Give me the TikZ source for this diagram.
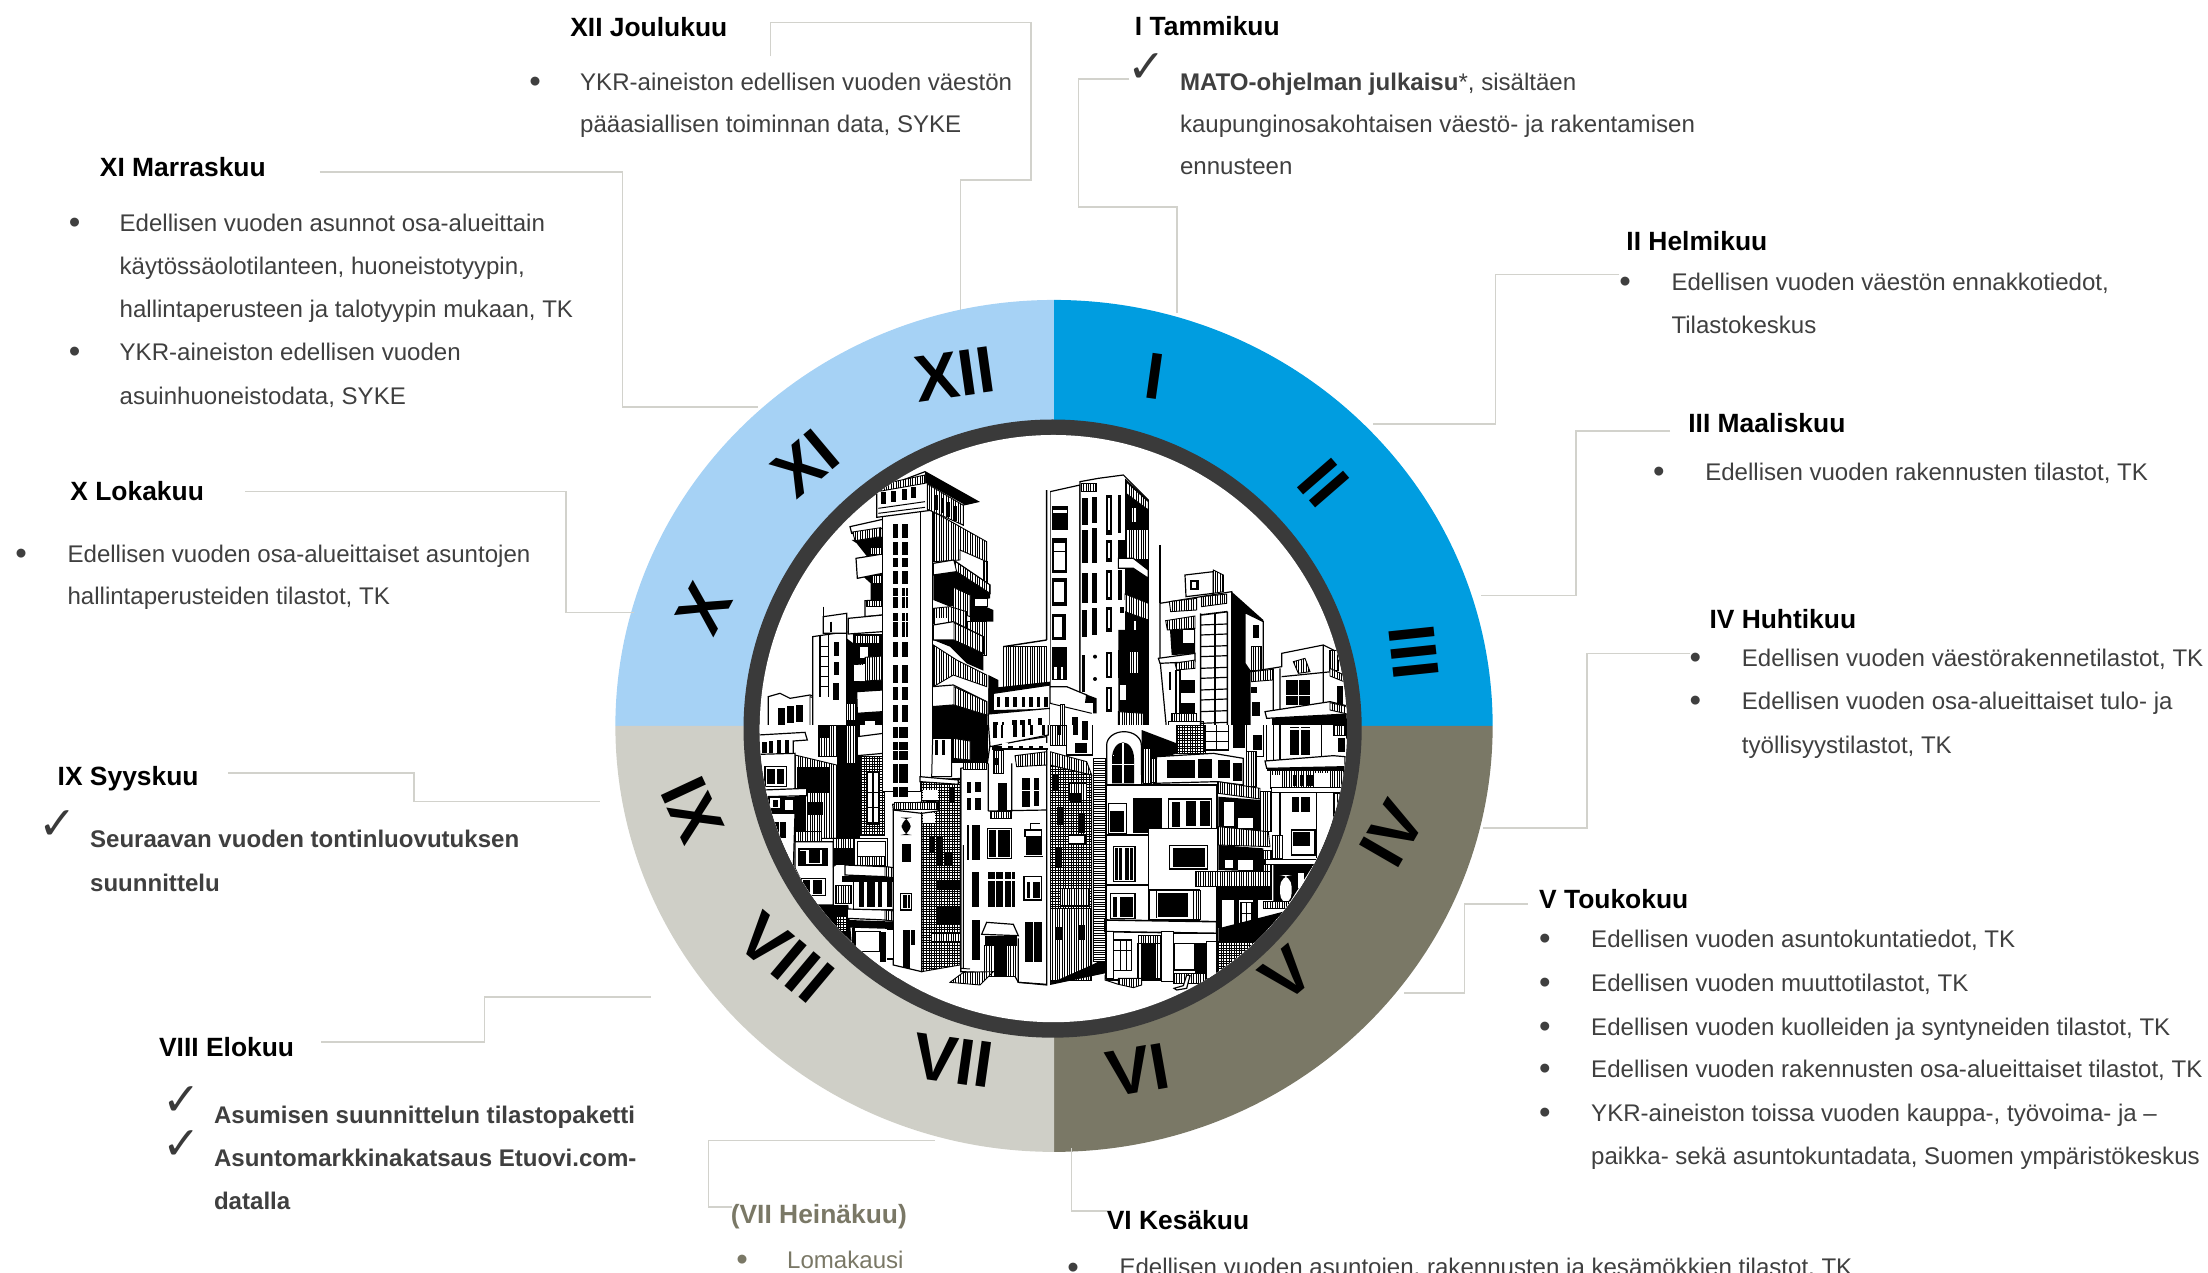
\documentclass[tikz,border=0pt]{standalone}
\usepackage{fontspec}
\setmainfont{Liberation Sans}
\newfontfamily\chkfont{DejaVu Sans}
\definecolor{cblue}{HTML}{009DE0}
\definecolor{clblue}{HTML}{A6D2F5}
\definecolor{colive}{HTML}{7A7866}
\definecolor{cgray}{HTML}{CFCFC7}
\definecolor{ctext}{HTML}{3F3F3F}
\definecolor{cline}{HTML}{D2D2CC}
\definecolor{cring}{HTML}{3A3A3A}
\newcommand\kb[4]{\fill (#1,#2) rectangle ++(#3,#4);}
\newcommand\wb[4]{\fill[white] (#1,#2) rectangle ++(#3,#4);}
\newcommand\fr[4]{\draw[bld] (#1,#2) rectangle ++(#3,#4);}
\newcommand\hvb[4]{\draw[hpv] (#1,#2) rectangle ++(#3,#4);}
\newcommand\hhb[4]{\draw[hph] (#1,#2) rectangle ++(#3,#4);}
\newcommand\hcb[4]{\draw[hpc] (#1,#2) rectangle ++(#3,#4);}
\newcommand\wpoly[1]{\filldraw[bld] #1 -- cycle;}
\newcommand\kpoly[1]{\fill #1 -- cycle;}
\newcommand\hvp[1]{\draw[hpv] #1 -- cycle;}
\newcommand\hcp[1]{\draw[hpc] #1 -- cycle;}
\tikzset{
 every node/.style={inner sep=0pt,outer sep=0pt},
 conn/.style={draw=cline,line width=1.5bp},
 ttl/.style={anchor=mid west,yshift=-6bp,font=\fontsize{26.5}{30}\selectfont\bfseries,text=black},
 ttlo/.style={ttl,text=colive},
 body/.style={anchor=mid west,yshift=-6bp,font=\fontsize{24.15}{28}\selectfont,text=ctext},
 bodyb/.style={body,font=\fontsize{24.15}{28}\selectfont\bfseries},
 bodyo/.style={body,text=colive},
 bul/.style={anchor=center,yshift=-3bp,font=\fontsize{33}{33}\selectfont,text=ctext},
 bulo/.style={bul,text=colive},
 chk/.style={anchor=center,font=\fontsize{46}{46}\chkfont\selectfont,text=cring},
 num/.style={anchor=center,font=\fontsize{66}{66}\selectfont\bfseries,text=black},
 bld/.style={fill=white,draw=black,line width=1.2pt},
 hv/.style={line width=.5pt,xstep=2.4pt,ystep=3000pt},
 hh/.style={line width=.5pt,xstep=3000pt,ystep=2.4pt},
 hc/.style={line width=.45pt,xstep=2.6pt,ystep=2.6pt},
 hpv/.style={fill=white,draw=black,line width=.9pt,path picture={\draw[hv] (path picture bounding box.south west) grid (path picture bounding box.north east);}},
 hph/.style={fill=white,draw=black,line width=.9pt,path picture={\draw[hh] (path picture bounding box.south west) grid (path picture bounding box.north east);}},
 hpc/.style={fill=white,draw=black,line width=.9pt,path picture={\draw[hc] (path picture bounding box.south west) grid (path picture bounding box.north east);}},
 tileA/.style={shift={(750bp,-430bp)},x=.33333bp,y=-.33333bp},
 tileB/.style={shift={(1050bp,-430bp)},x=.33333bp,y=-.33333bp},
 tileC/.style={shift={(750bp,-725bp)},x=.33333bp,y=-.33333bp},
 tileD/.style={shift={(1050bp,-725bp)},x=.33333bp,y=-.33333bp},
}
\begin{document}
\begin{tikzpicture}[x=1.40816bp,y=-1.40816bp]
\useasboundingbox (0,0) rectangle (1568,904);
% ring quadrants
\fill[clblue] (748.5,515.5) -- (437,515.5) arc[start angle=180,end angle=90,x radius=311.5,y radius=-302.5] -- cycle;
\fill[cblue] (748.5,515.5) -- (748.5,213) arc[start angle=90,end angle=0,x radius=311.5,y radius=-302.5] -- cycle;
\fill[colive] (748.5,515.5) -- (1060,515.5) arc[start angle=0,end angle=-90,x radius=311.5,y radius=-302.5] -- cycle;
\fill[cgray] (748.5,515.5) -- (748.5,818) arc[start angle=-90,end angle=-180,x radius=311.5,y radius=-302.5] -- cycle;
% centre disc
\fill[cring] (747.5,517.4) circle (219.5);
\fill[white] (748,517.4) circle (208.5);
\begin{scope}
\clip (748,517.4) circle (208.5);
% ---------- upper left tile
\begin{scope}[tileA]
\clip (0,0) rectangle (900,902);
% low building
\wpoly{(55,800)--(90,790)--(120,805)--(180,795)--(260,825)--(260,900)--(55,900)}
\hvp{(180,800)--(260,825)--(260,900)--(180,900)}
\kb{85}{835}{20}{50}\kb{110}{828}{22}{50}\kb{138}{825}{20}{50}
\kb{215}{835}{25}{40}
% narrow building
\wpoly{(188,620)--(290,605)--(290,900)--(188,900)}
\wpoly{(220,560)--(290,550)--(290,610)--(220,610)}
\draw[line width=1.2pt] (220,530)--(220,610) (243,575)--(243,606) (210,615)--(210,800) (235,615)--(235,800);
\foreach \k in {650,680,...,770}{\draw[line width=.8pt] (210,\k)--(235,\k);}
\kb{252}{635}{16}{42}\kb{252}{695}{16}{40}\kb{250}{760}{18}{50}
\kpoly{(290,625)--(310,640)--(310,900)--(290,900)}
% tower right side
\hvp{(550,245)--(630,290)--(710,335)--(710,395)--(630,360)--(630,390)--(550,395)}
\hvb{700}{395}{12}{70}
\kpoly{(550,435)--(620,425)--(720,490)--(720,505)--(600,530)--(550,510)}
\wpoly{(550,400)--(610,390)--(720,465)--(720,490)--(620,425)--(550,435)}
\hvp{(612,392)--(720,465)--(720,490)--(620,425)}
\hvp{(610,472)--(660,495)--(660,560)--(610,540)}
\kpoly{(660,510)--(730,540)--(730,575)--(660,575)}
\fr{672}{505}{40}{25}
\hvp{(550,535)--(600,530)--(650,545)--(650,600)--(550,580)}
\wb{555}{565}{35}{18}
\hvb{650}{575}{60}{100}
\kpoly{(550,630)--(610,630)--(700,670)--(700,722)--(650,700)--(600,650)}
\wpoly{(550,585)--(610,575)--(700,620)--(700,670)--(610,630)--(550,630)}
\hvp{(612,578)--(700,620)--(700,670)--(612,630)}
\hvp{(550,645)--(620,690)--(710,735)--(710,770)--(610,735)--(550,770)}
\kpoly{(715,735)--(745,750)--(745,790)--(715,900)}
\kpoly{(545,830)--(610,825)--(712,855)--(712,902)--(545,902)}
\wpoly{(547,770)--(610,765)--(710,815)--(710,855)--(610,825)--(547,830)}
\hvp{(612,770)--(710,815)--(710,855)--(612,825)}
% left balconies
\kpoly{(305,330)--(398,320)--(398,375)--(350,378)--(320,340)}
\wpoly{(300,290)--(398,268)--(398,295)--(305,310)}
\hvp{(308,306)--(392,293)--(392,320)--(315,332)}
\kpoly{(340,440)--(398,430)--(398,510)--(362,510)--(362,460)}
\wpoly{(318,385)--(398,372)--(398,430)--(322,445)}
\hvb{362}{352}{32}{22}\hvb{365}{435}{30}{25}
\wpoly{(345,512)--(398,510)--(398,555)--(345,560)}
\hvb{350}{512}{45}{18}
\wpoly{(295,565)--(398,555)--(398,605)--(295,612)}
\kb{310}{612}{88}{170}
\hvb{315}{615}{75}{25}
\fr{327}{650}{28}{35}
\hvp{(345,682)--(398,678)--(398,750)--(310,755)--(310,705)--(345,700)}
\wb{312}{706}{32}{48}
\kb{295}{770}{103}{132}
\wpoly{(320,785)--(398,780)--(398,845)--(322,850)}
\hvb{290}{820}{25}{50}
\wb{345}{872}{30}{30}
% tower front
\fr{398}{240}{150}{662}
\draw[line width=1.6pt] (512,245)--(512,902);
\foreach \yy/\hh in {283/40,335/40,385/26,422/40,475/60,548/72,635/45,705/55,772/38,825/50,888/20}{\kb{430}{\yy}{15}{\hh}\kb{455}{\yy}{20}{\hh}}
\draw[white,line width=.6pt] (465,475)--(465,620) (430,500)--(475,500) (430,575)--(475,575);
% penthouse
\wpoly{(380,180)--(525,125)--(685,215)--(640,225)--(640,285)--(550,240)--(380,262)}
\kpoly{(525,125)--(685,215)--(645,225)--(530,160)--(525,160)}
\hvp{(385,165)--(525,135)--(525,160)--(382,185)}
\hvp{(532,162)--(640,226)--(640,285)--(532,238)}
\kb{555}{195}{8}{45}\kb{590}{215}{10}{45}\kb{610}{228}{12}{45}\kb{572}{205}{8}{45}
\kb{393}{187}{14}{35}\kb{424}{182}{14}{35}\kb{457}{178}{14}{33}\kb{484}{172}{14}{32}
\draw[line width=1pt] (385,235)--(525,215) (385,250)--(525,232);
% right tower edge
\hvb{760}{648}{130}{125}
\draw[line width=1.4pt] (760,650)--(890,630) (890,180)--(890,630);
\kpoly{(715,775)--(900,755)--(900,850)--(715,860)}
\wpoly{(730,790)--(900,765)--(900,838)--(730,842)}
\foreach \xx in {740,765,790,815,838,860,882}{\kb{\xx}{802}{11}{30}}
\wpoly{(715,852)--(900,835)--(900,902)--(715,902)}
\kb{730}{875}{15}{27}\kb{755}{875}{8}{27}\kb{785}{870}{15}{32}\kb{810}{870}{14}{32}\kb{835}{868}{8}{34}\kb{865}{865}{12}{37}
\end{scope}
% ---------- upper right tile
\begin{scope}[tileB]
\clip (0,0) rectangle (930,902);
\draw[line width=1.2pt] (330,345)--(330,520);
% centre tower
\wpoly{(0,185)--(90,165)--(90,902)--(0,902)}
\wpoly{(90,155)--(145,145)--(220,135)--(295,210)--(295,902)--(90,902)}
\hvb{95}{160}{45}{25}
\kb{5}{228}{48}{72}\wb{8}{240}{42}{8}
\kb{5}{325}{45}{105}\wb{12}{340}{32}{80}\draw[line width=1pt] (12,365)--(44,365);
\kb{5}{445}{45}{82}\wb{12}{455}{30}{62}
\kb{6}{553}{42}{78}\wb{12}{562}{25}{60}
\kb{5}{650}{45}{100}\wb{12}{710}{8}{38}\wb{32}{710}{8}{38}
\kb{95}{205}{18}{80}\kb{125}{200}{17}{78}\kb{95}{300}{18}{100}\kb{125}{295}{17}{105}
\kb{95}{430}{18}{90}\kb{125}{428}{17}{90}\kb{95}{540}{15}{80}\kb{125}{535}{17}{80}
\kb{168}{195}{18}{120}\wb{174}{205}{6}{95}\kb{168}{330}{18}{65}\wb{174}{340}{6}{45}
\kb{168}{420}{18}{90}\wb{174}{430}{6}{70}\kb{168}{530}{18}{75}\wb{174}{540}{6}{55}
\kb{205}{195}{8}{115}\kb{205}{330}{22}{55}\kb{205}{420}{12}{90}
\kb{205}{660}{10}{85}\kb{168}{665}{18}{80}\wb{174}{672}{6}{65}\kb{168}{770}{18}{75}\wb{174}{778}{6}{60}
\kb{95}{675}{10}{110}
\fill (135,680) circle (6); \fill (135,747) circle (6);
\kpoly{(225,145)--(295,210)--(295,902)--(205,902)--(205,600)--(225,600)}
\hvp{(228,155)--(295,215)--(295,240)--(228,190)}
\hvb{240}{232}{20}{45}
\hvb{230}{297}{65}{90}
\wpoly{(205,385)--(250,385)--(295,420)--(295,445)--(250,415)--(205,415)}
\hvp{(225,492)--(295,520)--(295,570)--(225,545)}
\hvb{235}{665}{30}{65}
\wb{205}{510}{20}{68}\kb{210}{530}{12}{18}
\hvb{247}{572}{15}{28}
\hvp{(205,845)--(280,850)--(280,902)--(205,902)}
\wb{210}{765}{18}{45}
% left-bottom slab
\kpoly{(100,790)--(140,805)--(140,850)--(100,850)}
\wpoly{(0,770)--(50,770)--(110,795)--(105,830)--(0,820)}
\wb{0}{820}{130}{82}
\draw[line width=1pt] (0,820)--(125,850);
\hvb{30}{822}{14}{80}
\kb{65}{862}{20}{40}\kb{95}{872}{20}{30}
% right-mid tower
\wpoly{(405,435)--(490,425)--(490,490)--(408,500)}
\kb{420}{450}{26}{30}\wb{426}{456}{13}{18}
\hvp{(490,420)--(520,435)--(520,485)--(490,490)}
\wpoly{(330,520)--(545,485)--(545,902)--(350,902)--(330,690)}
\hvp{(358,515)--(440,505)--(440,540)--(362,545)}
\hvp{(455,500)--(530,492)--(530,520)--(455,530)}
\kpoly{(360,600)--(435,595)--(435,672)--(365,675)}
\hvp{(347,572)--(435,558)--(435,595)--(352,600)}
\wb{398}{600}{35}{40}
\wpoly{(325,685)--(435,670)--(435,695)--(330,700)}
\hvp{(375,700)--(435,690)--(435,715)--(380,720)}
\hvb{375}{720}{15}{130}
\wb{392}{720}{43}{30}\kb{392}{750}{43}{40}\wb{392}{790}{43}{30}\kb{392}{820}{43}{30}
\hvb{365}{850}{75}{25}
\fr{355}{875}{105}{30}
\draw[line width=1.2pt] (360,725)--(360,780);
\draw[line width=1.6pt] (452,550)--(452,902) (495,550)--(495,902) (532,545)--(532,902) (452,555)--(532,545);
\foreach \k in {585,615,650,680,715,745,780,810,845,880}{\draw[line width=1.2pt] (452,\k)--(532,\k-3);}
\kpoly{(545,485)--(640,570)--(640,902)--(545,902)}
\wpoly{(585,548)--(640,575)--(640,722)--(600,722)--(585,700)}
\kb{608}{585}{18}{40}
\hvb{605}{650}{30}{70}
% far right building
\wpoly{(600,725)--(665,715)--(695,710)--(695,670)--(820,645)--(860,665)--(892,700)--(892,902)--(600,902)}
\hvp{(605,725)--(668,718)--(668,750)--(605,755)}
\kb{602}{770}{20}{20}\kb{605}{815}{25}{42}
\draw[line width=1.2pt] (670,715)--(670,840) (690,715)--(690,840) (695,740)--(845,725) (820,645)--(820,820);
\kb{708}{750}{72}{75}
\draw[white,line width=1.4pt] (745,750)--(745,825) (708,797)--(780,797);
\hvp{(730,695)--(765,685)--(780,725)--(745,730)}
\kb{860}{768}{20}{62}
\hvb{838}{662}{28}{58}
\hvp{(840,715)--(882,735)--(882,755)--(840,738)}
\kb{665}{850}{230}{52}
\wpoly{(645,845)--(840,815)--(892,828)--(892,852)--(650,865)}
\hvp{(840,818)--(892,830)--(892,852)--(840,840)}
\hvb{725}{885}{55}{20}
\end{scope}
% ---------- lower left tile
\begin{scope}[tileC]
\clip (0,0) rectangle (900,900);
% left blocks
\wb{0}{0}{900}{760}
\hvb{205}{-5}{60}{100}\kb{210}{0}{30}{40}
\kb{260}{-5}{70}{345}
\hvb{290}{-5}{30}{120}
\hvp{(135,90)--(260,120)--(260,340)--(135,340)}
\kb{142}{125}{95}{80}\kb{175}{230}{45}{40}
\kb{135}{210}{30}{110}
\hvb{135}{320}{80}{30}
\wpoly{(25,30)--(165,22)--(172,45)--(130,48)--(130,90)--(25,90)}
\kb{35}{50}{15}{35}\kb{58}{48}{12}{36}\kb{80}{46}{12}{38}\kb{105}{46}{12}{38}
\wpoly{(25,88)--(135,85)--(135,200)--(40,210)}
\fr{45}{125}{65}{60}\kb{50}{133}{25}{45}\kb{82}{133}{20}{45}
\wpoly{(40,195)--(170,190)--(170,212)--(45,215)}
\kb{50}{215}{90}{50}
\wb{60}{220}{30}{30}\kb{68}{225}{16}{22}\wb{105}{225}{25}{30}
\wpoly{(60,265)--(135,265)--(130,430)--(100,380)}
\kb{70}{290}{38}{50}\wb{88}{290}{3}{50}
\wpoly{(135,350)--(250,350)--(250,540)--(190,540)--(135,430)}
\fr{147}{372}{85}{48}\kb{150}{378}{17}{38}\kb{177}{375}{33}{40}\kb{215}{372}{15}{44}
\fr{155}{460}{72}{52}\kb{160}{465}{20}{40}\kb{190}{465}{25}{42}
\hvp{(250,340)--(322,340)--(322,370)--(250,425)}
\kb{252}{370}{58}{50}
\kpoly{(190,540)--(295,540)--(305,650)}
\hvb{255}{480}{50}{55}\hcb{258}{570}{30}{50}
% mid tower lower
\hcb{330}{95}{72}{235}
\kb{350}{140}{40}{160}\wb{355}{145}{12}{55}\wb{372}{145}{12}{55}\wb{355}{205}{12}{40}\wb{372}{205}{12}{40}\wb{355}{250}{12}{40}\wb{372}{250}{12}{40}
\wpoly{(322,35)--(400,25)--(400,85)--(322,92)}
% balconies
\fr{312}{340}{100}{85}
\wb{322}{348}{85}{45}\draw[line width=1pt] (322,348) rectangle (407,393);
\hvb{322}{395}{85}{25}
\kb{275}{452}{155}{20}
\wpoly{(285,420)--(405,425)--(445,430)--(445,460)--(405,455)--(285,450)}
\hvp{(405,425)--(445,430)--(445,460)--(405,455)}
\fr{310}{470}{120}{85}
\kb{328}{472}{15}{75}\kb{352}{472}{22}{75}\kb{385}{472}{12}{75}\kb{410}{472}{15}{75}
\kpoly{(298,585)--(440,590)--(430,612)--(300,608)}
\wpoly{(292,552)--(405,555)--(445,560)--(445,590)--(405,585)--(292,580)}
\hvp{(405,555)--(445,560)--(445,590)--(405,585)}
\fr{315}{620}{75}{60}
\kb{390}{620}{18}{90}
\fill (305,610) rectangle (315,690);
% tower column
\fr{398}{-5}{150}{205}
\draw[line width=1.6pt] (512,-5)--(512,200);
\kb{430}{5}{45}{35}\kb{428}{50}{46}{55}\kb{428}{118}{45}{55}\kb{428}{185}{45}{30}
\draw[white,line width=.8pt] (445,5)--(445,215) (428,75)--(474,75);
% brick
\hcp{(515,165)--(630,160)--(630,720)--(515,740)}
\kb{560}{335}{20}{85}\kb{585}{380}{20}{40}\kb{557}{545}{75}{55}\kb{560}{465}{70}{30}
\hvb{545}{625}{85}{25}
\wb{520}{195}{45}{30}\wb{520}{265}{35}{30}\kb{600}{190}{15}{45}\kb{540}{335}{12}{45}
\wpoly{(510,155)--(625,165)--(625,178)--(510,170)}
% narrow tower
\wpoly{(430,255)--(515,260)--(515,740)--(430,720)}
\wpoly{(428,238)--(565,228)--(565,258)--(515,265)--(430,255)}
\hvb{432}{232}{130}{20}
\fill[rounded corners=10] (455,278) rectangle ++(27,52);
\kb{455}{358}{27}{52}
\fr{452}{505}{33}{50}\kb{458}{510}{12}{40}\kb{473}{510}{8}{40}
\kb{460}{615}{20}{115}\kb{482}{615}{12}{45}
\draw[line width=1.4pt] (515,260)--(515,740);
\fill (410,610) rectangle (432,705);
\wb{412}{615}{16}{85}
% behind top
\kb{550}{-5}{165}{120}
\fill[white,draw=black,line width=1pt] (548,40)--(605,40)--(605,155)--(545,155)--cycle;
\kb{555}{45}{10}{45}\kb{575}{45}{10}{45}
\hvp{(610,40)--(660,48)--(660,105)--(610,100)}
% central front
\wpoly{(632,130)--(712,115)--(720,60)--(890,35)--(890,780)--(805,772)--(790,745)--(632,740)}
\wpoly{(715,-5)--(895,-5)--(895,30)--(720,65)}
\kb{730}{0}{12}{40}\kb{752}{0}{8}{40}\kb{790}{0}{12}{35}\kb{815}{0}{10}{35}\kb{840}{0}{8}{30}\kb{875}{0}{10}{30}
\kb{725}{62}{170}{14}
\foreach \xx in {755,790,820,850,880}{\wb{\xx}{54}{18}{15}}
\hvb{730}{75}{30}{70}
\kb{735}{100}{10}{20}
\hvp{(795,92)--(890,80)--(890,120)--(800,125)}
\hvb{640}{112}{70}{20}
\draw[line width=1.2pt] (632,130)--(632,740) (715,115)--(715,258) (785,115)--(785,260) (715,258)--(890,255);
\kb{650}{172}{14}{32}\kb{675}{170}{18}{32}\kb{650}{218}{14}{38}\kb{675}{218}{18}{38}
\kb{745}{175}{25}{80}
\kb{815}{160}{26}{85}\kb{852}{158}{15}{85}\draw[white,line width=.8pt] (815,195)--(867,195);
\hvb{720}{260}{65}{20}
\kb{650}{300}{10}{105}\kb{665}{300}{25}{105}\wb{658}{300}{7}{105}
\fr{712}{310}{73}{90}\kb{718}{315}{20}{80}\kb{745}{315}{35}{80}
\fr{825}{315}{50}{20}\kb{828}{335}{48}{55}\draw[line width=1pt] (822,395)--(880,395) (840,315)--(840,295)--(870,295);
\kb{665}{440}{22}{105}
\kb{715}{440}{80}{105}\draw[white,line width=1.2pt] (737,440)--(737,545) (762,440)--(762,545) (785,440)--(785,545) (715,465)--(795,465);
\fr{822}{455}{53}{70}\kb{830}{470}{10}{50}\kb{850}{470}{20}{50}
\kb{665}{585}{25}{120}
\kb{705}{632}{95}{30}
\hvb{703}{660}{30}{95}\hvb{770}{660}{25}{95}\kb{735}{660}{35}{95}
\wpoly{(695,628)--(710,592)--(790,598)--(805,632)}
\kb{825}{590}{52}{120}\draw[white,line width=1.2pt] (850,590)--(850,710);
\draw[line width=1pt] (640,360)--(640,730) (632,730)--(660,732);
\hvp{(600,772)--(640,742)--(730,740)--(690,780)}
\draw[line width=1.2pt] (805,640)--(805,772)--(890,778);
\end{scope}
% ---------- lower right tile
\begin{scope}[tileD]
\clip (0,0) rectangle (930,900);
\wb{0}{0}{930}{760}
% brick right side
\hcp{(0,120)--(125,150)--(125,720)--(0,775)}
\hvb{0}{550}{125}{215}
\hvp{(0,80)--(110,110)--(125,150)--(0,120)}
\kpoly{(0,775)--(125,720)--(165,700)--(165,745)--(0,780)}
\fr{50}{-5}{78}{95}
\kb{70}{0}{15}{30}\kb{95}{0}{18}{45}\kb{75}{55}{35}{30}
\hvb{0}{0}{48}{60}\kb{20}{0}{12}{30}
\kb{5}{150}{20}{45}\hvb{55}{175}{55}{50}\kb{60}{205}{35}{30}\kb{20}{245}{20}{55}\kb{85}{265}{20}{60}\fr{55}{330}{50}{25}\kb{15}{370}{20}{60}\hvb{30}{490}{85}{50}\kb{18}{605}{22}{40}\kb{85}{600}{20}{45}
\hhb{130}{100}{35}{610}
% top of centre right
\hcb{380}{-5}{85}{90}
\fr{465}{-5}{70}{80}\draw[line width=1pt] (500,-5)--(500,75) (465,20)--(535,20) (465,48)--(535,48);
\kb{550}{-5}{35}{75}\fr{590}{-5}{50}{100}\kb{610}{30}{25}{45}
\kpoly{(275,15)--(380,55)--(380,85)--(300,115)--(275,180)}
\hvb{280}{70}{25}{105}
% arch unit
\filldraw[bld] (170,185)--(170,60) arc[start angle=180,end angle=0,x radius=52,y radius=-40] --(275,180)--cycle;
\fill (186,175)--(186,100) arc[start angle=180,end angle=0,x radius=33,y radius=-48] --(252,175)--cycle;
\draw[white,line width=1.4pt] (219,55)--(219,175) (186,118)--(252,118);
\wb{190}{90}{2}{2}
% main
\fr{170}{180}{330}{585}
\wpoly{(320,95)--(490,85)--(580,100)--(580,180)--(500,170)--(310,175)}
\kb{350}{105}{85}{55}\kb{445}{103}{40}{55}\kb{503}{105}{38}{55}\kb{550}{113}{25}{55}
\hvb{305}{100}{15}{72}
\hvb{590}{80}{30}{105}
\kb{250}{218}{85}{105}
\fr{175}{235}{55}{90}\kb{180}{258}{42}{62}
\fr{355}{222}{130}{88}\kb{365}{230}{25}{75}\kb{407}{228}{30}{75}\kb{450}{228}{30}{75}
\wb{295}{310}{205}{175}
\draw[line width=1.4pt] (170,330)--(295,330) (295,310)--(295,585) (295,310)--(500,310) (170,480)--(295,480);
\fr{190}{365}{65}{105}\kb{195}{370}{20}{95}\kb{225}{370}{25}{95}\draw[white,line width=1pt] (205,370)--(205,465) (238,370)--(238,465);
\fr{358}{362}{114}{70}\kb{370}{370}{95}{55}
\fr{182}{505}{73}{75}\kb{190}{515}{10}{60}\kb{210}{515}{40}{60}
\fr{298}{495}{150}{90}\kb{325}{503}{90}{72}\draw[line width=1pt] (320,498) -- (320,580);
\hvb{430}{497}{20}{85}
\draw[line width=1.6pt] (165,585)--(500,590)--(500,625)--(165,620)--cycle;
% right-hand balconies
\kpoly{(505,215)--(630,225)--(630,320)--(505,305)}
\wb{523}{232}{28}{70}\wb{565}{278}{45}{30}
\hvp{(505,170)--(630,190)--(630,222)--(505,205)}
\hvb{630}{200}{35}{120}
\hvp{(505,305)--(655,320)--(660,365)--(505,360)}
\kpoly{(505,360)--(640,370)--(640,440)--(505,435)}
\wb{565}{405}{45}{30}\wb{525}{405}{25}{25}
\hvb{640}{375}{25}{65}
\hvp{(435,440)--(665,440)--(665,485)--(435,485)}
\kb{505}{485}{160}{40}
\wb{505}{525}{125}{85}
\kb{505}{525}{12}{85}\kb{552}{525}{16}{85}\kb{610}{525}{15}{80}\kb{570}{530}{40}{70}
\wb{575}{535}{12}{28}\wb{592}{535}{12}{28}\wb{575}{568}{12}{28}\wb{592}{568}{12}{28}
\kpoly{(505,610)--(700,560)--(620,650)--(505,650)}
\hcp{(505,650)--(620,650)--(560,720)--(505,745)}
\draw[line width=1.6pt] (503,170)--(503,770);
% far right
\fr{650}{-5}{240}{115}
\kb{720}{5}{60}{85}\draw[white,line width=1.2pt] (750,5)--(750,90) (720,12)--(780,12);
\kb{865}{40}{20}{40}
\draw[line width=1.2pt] (670,0)--(670,105) (690,0)--(690,105) (815,0)--(815,100);
\hvb{850}{0}{35}{30}
\kb{650}{125}{240}{12}
\wpoly{(645,108)--(850,92)--(885,95)--(885,125)--(650,130)}
\hvb{660}{135}{220}{55}
\wb{665}{150}{30}{40}\kb{730}{150}{10}{32}\kb{750}{150}{10}{32}\kb{772}{150}{16}{32}\wb{795}{145}{40}{40}
\fr{665}{188}{215}{15}
\wb{670}{205}{180}{195}
\draw[line width=1.2pt] (690,205)--(690,400) (800,205)--(800,400) (850,200)--(850,300);
\hvb{852}{205}{22}{75}
\kb{725}{215}{55}{45}\draw[white,line width=1.2pt] (750,215)--(750,260);
\fr{725}{315}{70}{75}\kb{730}{322}{50}{42}
\hvb{668}{330}{30}{70}
\fr{645}{403}{155}{15}
\kpoly{(670,420)--(790,420)--(720,530)--(670,530)}
\fill[white,rounded corners=12] (690,450) rectangle ++(35,90);
\wb{745}{445}{18}{45}
\hvb{640}{530}{75}{20}
% ground floor
\fr{168}{620}{22}{140}
\fr{190}{645}{55}{92}\draw (210,645)--(210,737) (228,645)--(228,737) (190,675)--(245,675);
\hvb{265}{630}{65}{25}
\kb{275}{655}{40}{110}
\hvb{262}{655}{13}{105}\hvb{315}{655}{15}{105}
\fr{335}{620}{35}{150}
\fr{370}{625}{130}{30}
\fr{373}{655}{60}{80}
\kb{435}{655}{35}{90}
\fr{470}{650}{30}{110}
\hvb{370}{745}{100}{30}
\hvp{(205,760)--(275,760)--(275,780)--(250,788)--(205,778)}
\wpoly{(410,750)--(420,752)--(410,790)--(380,795)--(372,790)--(400,782)}
\draw[line width=1pt] (165,750)--(165,765)--(205,778);
\end{scope}
\end{scope}
% connectors
\coordinate (cXIIs) at (547,40); \coordinate (cXIIe) at (682,220);
\coordinate (cIs) at (802,56);   \coordinate (cIe) at (836,222);
\coordinate (cIIs) at (1150,195);\coordinate (cIIe) at (975,301);
\coordinate (cIIIs) at (1186,306);\coordinate (cIIIe) at (1052,423);
\coordinate (cIVs) at (1200,464);\coordinate (cIVe) at (1053,588);
\coordinate (cVs) at (1085,642); \coordinate (cVe) at (997,705);
\coordinate (cVIs) at (786,860); \coordinate (cVIe) at (761,815);
\coordinate (cVIIs) at (520,857);\coordinate (cVIIe) at (664,810);
\coordinate (cVIIIs) at (228,740);\coordinate (cVIIIe) at (462,708);
\coordinate (cIXs) at (162,549); \coordinate (cIXe) at (426,569);
\coordinate (cXs) at (174,349);  \coordinate (cXe) at (450,435);
\coordinate (cXIs) at (227,122); \coordinate (cXIe) at (538,289);
\draw[conn] (cXIIs) -- (547,16) -- (732,16) -- (732,128) -- (682,128) -- (cXIIe);
\draw[conn] (cIs) -- (766,56) -- (766,147) -- (836,147) -- (cIe);
\draw[conn] (cIIs) -- (1062,195) -- (1062,301) -- (cIIe);
\draw[conn] (cIIIs) -- (1119,306) -- (1119,423) -- (cIIIe);
\draw[conn] (cIVs) -- (1127,464) -- (1127,588) -- (cIVe);
\draw[conn] (cVs) -- (1040,642) -- (1040,705) -- (cVe);
\draw[conn] (cVIs) -- (761,860) -- (cVIe);
\draw[conn] (cVIIs) -- (503,857) -- (503,810) -- (cVIIe);
\draw[conn] (cVIIIs) -- (344,740) -- (344,708) -- (cVIIIe);
\draw[conn] (cIXs) -- (294,549) -- (294,569) -- (cIXe);
\draw[conn] (cXs) -- (402,349) -- (402,435) -- (cXe);
\draw[conn] (cXIs) -- (442,122) -- (442,289) -- (cXIe);
% ring numerals
\node[num,rotate=-8] (nI) at (820,267) {I};
\node[num,rotate=-49] (nII) at (940,343) {II};
\node[num,rotate=-84] (nIII) at (1004,463) {III};
\node[num,rotate=60] (nIV) at (989,592) {IV};
\node[num,rotate=40] (nV) at (914,692) {V};
\node[num,rotate=10] (nVI) at (808,760) {VI};
\node[num,rotate=-8] (nVII) at (677,753) {VII};
\node[num,rotate=-40] (nVIII) at (558,680) {VIII};
\node[num,rotate=-65] (nIX) at (492,575) {IX};
\node[num,rotate=62] (nX) at (500,432) {X};
\node[num,rotate=40] (nXI) at (572,329) {XI};
\node[num,rotate=8] (nXII) at (678,266) {XII};
% XII
\node[ttl] (tXII) at (405,20) {XII Joulukuu};
\node[bul] (uXIIa) at (380,58) {•};
\node[body] (bXIIa) at (412,58) {YKR-aineiston edellisen vuoden väestön};
\node[body] (bXIIb) at (412,88) {pääasiallisen toiminnan data, SYKE};
% I
\node[ttl] (tI) at (806,19) {I Tammikuu};
\node[chk] (kI) at (814,48) {✓};
\node[body] (bIa) at (838,58) {\textbf{MATO-ohjelman julkaisu}*, sisältäen};
\node[body] (bIb) at (838,88) {kaupunginosakohtaisen väestö- ja rakentamisen};
\node[body] (bIc) at (838,118) {ennusteen};
% II
\node[ttl] (tII) at (1155,172) {II Helmikuu};
\node[bul] (uIIa) at (1154,200) {•};
\node[body] (bIIa) at (1187,200) {Edellisen vuoden väestön ennakkotiedot,};
\node[body] (bIIb) at (1187,231) {Tilastokeskus};
% III
\node[ttl] (tIII) at (1199,301) {III Maaliskuu};
\node[bul] (uIIIa) at (1178,335) {•};
\node[body] (bIIIa) at (1211,335) {Edellisen vuoden rakennusten tilastot, TK};
% IV
\node[ttl] (tIV) at (1214,440) {IV Huhtikuu};
\node[bul] (uIVa) at (1204,467) {•};
\node[bul] (uIVb) at (1204,498) {•};
\node[body] (bIVa) at (1237,467) {Edellisen vuoden väestörakennetilastot, TK};
\node[body] (bIVb) at (1237,498) {Edellisen vuoden osa-alueittaiset tulo- ja};
\node[body] (bIVc) at (1237,529) {työllisyystilastot, TK};
% V
\node[ttl] (tV) at (1093,639) {V Toukokuu};
\node[bul] (uVa) at (1097,667) {•};
\node[bul] (uVb) at (1097,698) {•};
\node[bul] (uVc) at (1097,729) {•};
\node[bul] (uVd) at (1097,759) {•};
\node[bul] (uVe) at (1097,790) {•};
\node[body] (bVa) at (1130,667) {Edellisen vuoden asuntokuntatiedot, TK};
\node[body] (bVb) at (1130,698) {Edellisen vuoden muuttotilastot, TK};
\node[body] (bVc) at (1130,729) {Edellisen vuoden kuolleiden ja syntyneiden tilastot, TK};
\node[body] (bVd) at (1130,759) {Edellisen vuoden rakennusten osa-alueittaiset tilastot, TK};
\node[body] (bVe) at (1130,790) {YKR-aineiston toissa vuoden kauppa-, työvoima- ja –};
\node[body] (bVf) at (1130,821) {paikka- sekä asuntokuntadata, Suomen ympäristökeskus};
% VI
\node[ttl] (tVI) at (786,867) {VI Kesäkuu};
\node[bul] (uVIa) at (762,900) {•};
\node[body] (bVIa) at (795,900) {Edellisen vuoden asuntojen, rakennusten ja kesämökkien tilastot, TK};
% VII
\node[ttlo] (tVII) at (519,863) {(VII Heinäkuu)};
\node[bulo] (uVIIa) at (527,895) {•};
\node[bodyo] (bVIIa) at (559,895) {Lomakausi};
% VIII
\node[ttl] (tVIII) at (113,744) {VIII Elokuu};
\node[chk] (kVIIIa) at (129,782) {✓};
\node[chk] (kVIIIb) at (129,813) {✓};
\node[bodyb] (bVIIIa) at (152,792) {Asumisen suunnittelun tilastopaketti};
\node[bodyb] (bVIIIb) at (152,822) {Asuntomarkkinakatsaus Etuovi.com-};
\node[bodyb] (bVIIIc) at (152,853) {datalla};
% IX
\node[ttl] (tIX) at (41,552) {IX Syyskuu};
\node[chk] (kIX) at (41,586) {✓};
\node[bodyb] (bIXa) at (64,596) {Seuraavan vuoden tontinluovutuksen};
\node[bodyb] (bIXb) at (64,627) {suunnittelu};
% X
\node[ttl] (tX) at (50,349) {X Lokakuu};
\node[bul] (uXa) at (15,393) {•};
\node[body] (bXa) at (48,393) {Edellisen vuoden osa-alueittaiset asuntojen};
\node[body] (bXb) at (48,423) {hallintaperusteiden tilastot, TK};
% XI
\node[ttl] (tXI) at (71,119) {XI Marraskuu};
\node[bul] (uXIa) at (53,158) {•};
\node[bul] (uXIb) at (53,250) {•};
\node[body] (bXIa) at (85,158) {Edellisen vuoden asunnot osa-alueittain};
\node[body] (bXIb) at (85,189) {käytössäolotilanteen, huoneistotyypin,};
\node[body] (bXIc) at (85,219) {hallintaperusteen ja talotyypin mukaan, TK};
\node[body] (bXId) at (85,250) {YKR-aineiston edellisen vuoden};
\node[body] (bXIe) at (85,281) {asuinhuoneistodata, SYKE};
\end{tikzpicture}
\end{document}
